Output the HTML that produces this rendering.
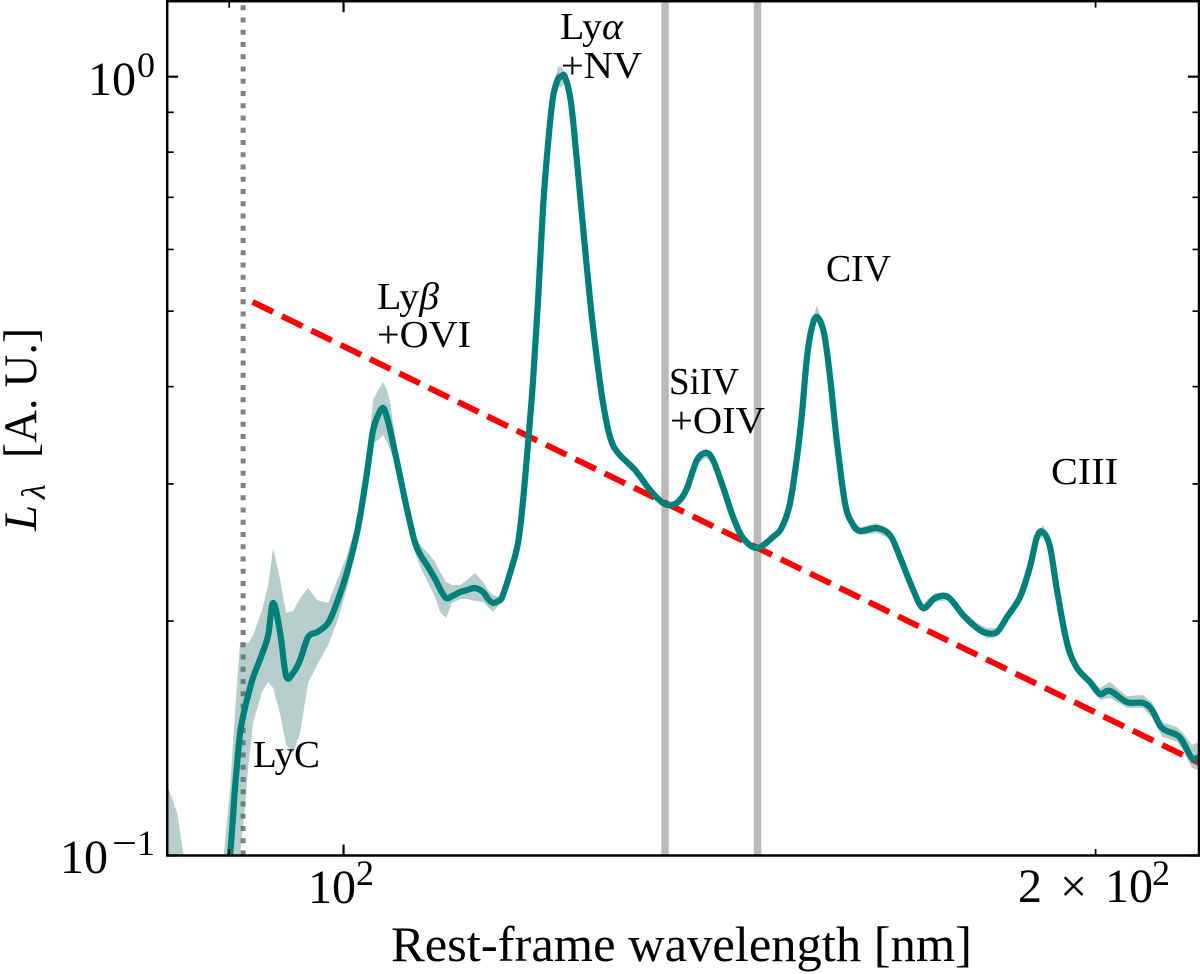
<!DOCTYPE html>
<html lang="en">
<head>
<meta charset="utf-8">
<title>Composite spectrum</title>
<style>
html,body{margin:0;padding:0;background:#fff;}
#chart{display:block;width:1200px;height:974px;}
text{font-family:"Liberation Serif","DejaVu Serif",serif;fill:#000;}
</style>
</head>
<body>
<svg id="chart" xmlns="http://www.w3.org/2000/svg" width="1200" height="974" viewBox="0 0 1200 974">
  <defs><clipPath id="plot-clip"><rect x="167.2" y="1.2" width="1031.8" height="854.3"/></clipPath></defs>
  <g id="plot" clip-path="url(#plot-clip)"></g>
  <g id="frame"></g>

  <g>
    <g><text x="88" y="95" font-size="48">10</text><text x="137" y="77" font-size="36">0</text></g>
    <g><text x="60" y="873" font-size="48">10</text><text x="112" y="855" font-size="36" textLength="25" lengthAdjust="spacingAndGlyphs">−</text><text x="137" y="855" font-size="36">1</text></g>
  </g>
  <g>
    <g><text x="308" y="903" font-size="48">10</text><text x="356" y="885" font-size="36">2</text></g>
    <g><text x="1018" y="902" font-size="48">2</text><text x="1060" y="902" font-size="48">×</text><text x="1105" y="902" font-size="48">10</text><text x="1152" y="885" font-size="36">2</text></g>
  </g>

  <text x="391" y="961" font-size="50" textLength="581" lengthAdjust="spacingAndGlyphs">Rest-frame wavelength [nm]</text>
  <g>
    <text transform="rotate(-90 36 531)" x="36" y="531" font-size="47" font-style="italic">L</text>
    <text transform="rotate(-90 45 499)" x="45" y="499" font-size="34" font-style="italic">λ</text>
    <text transform="rotate(-90 36 458)" x="36" y="458" font-size="47" textLength="130" lengthAdjust="spacingAndGlyphs">[A. U.]</text>
  </g>

  <g>
    <text x="560" y="39" font-size="38" textLength="63" lengthAdjust="spacingAndGlyphs">Ly<tspan font-style="italic">α</tspan></text>
    <text x="561" y="78" font-size="38" textLength="81" lengthAdjust="spacingAndGlyphs">+NV</text>
    <text x="377" y="309" font-size="38" textLength="62" lengthAdjust="spacingAndGlyphs">Ly<tspan font-style="italic">β</tspan></text>
    <text x="377" y="347" font-size="38" textLength="94" lengthAdjust="spacingAndGlyphs">+OVI</text>
    <text x="669" y="394" font-size="38" textLength="70" lengthAdjust="spacingAndGlyphs">SiIV</text>
    <text x="670" y="433" font-size="38" textLength="95" lengthAdjust="spacingAndGlyphs">+OIV</text>
    <text x="826" y="281" font-size="38" textLength="65" lengthAdjust="spacingAndGlyphs">CIV</text>
    <text x="1051" y="484" font-size="38" textLength="67" lengthAdjust="spacingAndGlyphs">CIII</text>
    <text x="253" y="767" font-size="38" textLength="67" lengthAdjust="spacingAndGlyphs">LyC</text>
  </g>
</svg>
<script>
// ---- data ----
const wavelengthNm = [85.0,85.79,86.26,87.62,89.5,90.08,90.49,90.91,91.33,91.59,92.01,92.77,93.29,93.72,94.33,94.85,95.46,96.08,96.79,97.6,98.59,99.41,100.33,101.26,102.01,102.48,102.76,103.24,103.72,104.1,104.39,104.77,105.16,106.04,106.82,107.41,108.11,108.81,109.31,109.91,110.52,111.34,112.06,112.89,113.73,114.25,114.78,115.31,115.74,116.59,117.45,118.0,118.54,119.09,119.64,120.19,120.75,121.3,121.86,122.2,122.65,123.33,124.02,124.7,125.51,126.32,127.02,127.84,128.79,130.82,132.64,134.24,135.36,136.36,137.25,138.51,139.67,140.57,141.87,143.19,144.51,146.39,148.56,149.8,150.91,151.89,152.59,153.29,154.0,154.71,155.71,156.58,157.59,158.75,159.78,160.96,163.5,165.47,167.0,168.86,170.58,172.49,174.57,177.0,179.29,180.96,182.63,184.32,186.54,188.26,189.48,190.53,191.77,193.01,194.8,196.6,198.95,200.8,202.66,205.86,208.92,210.66,212.61,215.57,216.77,218.57,220.0];
const luminosity = [0.0930,0.0903,0.0877,0.0802,0.0864,0.1008,0.1224,0.1437,0.1551,0.1607,0.1695,0.1815,0.1919,0.2110,0.1930,0.1700,0.1716,0.1783,0.1908,0.1936,0.1989,0.2116,0.2312,0.2602,0.2990,0.3316,0.3518,0.3678,0.3755,0.3645,0.3518,0.3336,0.3154,0.2777,0.2519,0.2424,0.2347,0.2265,0.2199,0.2141,0.2153,0.2179,0.2192,0.2205,0.2179,0.2135,0.2110,0.2122,0.2147,0.2305,0.2519,0.2861,0.3386,0.4079,0.5167,0.6803,0.8220,0.9418,0.9932,1.0000,0.9991,0.9252,0.7748,0.6412,0.5167,0.4328,0.3811,0.3446,0.3287,0.3126,0.2946,0.2835,0.2819,0.2861,0.2964,0.3220,0.3287,0.3220,0.2973,0.2721,0.2557,0.2482,0.2564,0.2641,0.2835,0.3249,0.3699,0.4366,0.4771,0.4914,0.4687,0.4115,0.3386,0.2835,0.2673,0.2610,0.2633,0.2579,0.2417,0.2212,0.2079,0.2141,0.2147,0.2036,0.1959,0.1930,0.1936,0.2024,0.2147,0.2347,0.2564,0.2602,0.2490,0.2192,0.1874,0.1741,0.1671,0.1612,0.1627,0.1574,0.1570,0.1538,0.1458,0.1428,0.1399,0.1334,0.1338];
const bandUpper = [0.1232,0.1134,0.1008,0.0877,0.0987,0.1224,0.1538,0.1880,0.1874,0.1874,0.1919,0.2066,0.2225,0.2482,0.2258,0.2048,0.2060,0.2141,0.2205,0.2128,0.2110,0.2258,0.2432,0.2681,0.3080,0.3518,0.3845,0.3960,0.4055,0.3960,0.3811,0.3518,0.3249,0.2835,0.2579,0.2497,0.2446,0.2382,0.2312,0.2245,0.2225,0.2225,0.2258,0.2305,0.2245,0.2192,0.2160,0.2147,0.2173,0.2319,0.2534,0.2878,0.3406,0.4103,0.5198,0.6843,0.8269,0.9586,1.0321,1.0291,1.0140,0.9307,0.7794,0.6450,0.5198,0.4353,0.3833,0.3467,0.3316,0.3163,0.2964,0.2852,0.2835,0.2878,0.2982,0.3258,0.3336,0.3258,0.2990,0.2737,0.2572,0.2497,0.2579,0.2657,0.2852,0.3268,0.3722,0.4392,0.4842,0.5092,0.4729,0.4140,0.3406,0.2852,0.2696,0.2641,0.2673,0.2610,0.2432,0.2232,0.2103,0.2173,0.2173,0.2060,0.1989,0.1959,0.1959,0.2042,0.2160,0.2361,0.2595,0.2657,0.2519,0.2205,0.1886,0.1762,0.1690,0.1641,0.1671,0.1602,0.1607,0.1574,0.1484,0.1462,0.1437,0.1387,0.1399];
const bandLower = [0.0734,0.0734,0.0734,0.0692,0.0692,0.0827,0.0917,0.1002,0.1161,0.1299,0.1484,0.1622,0.1671,0.1641,0.1515,0.1387,0.1354,0.1437,0.1666,0.1757,0.1863,0.1995,0.2205,0.2504,0.2903,0.3201,0.3386,0.3416,0.3467,0.3396,0.3316,0.3220,0.3062,0.2721,0.2446,0.2333,0.2238,0.2147,0.2054,0.2018,0.2110,0.2135,0.2135,0.2122,0.2116,0.2085,0.2054,0.2091,0.2116,0.2285,0.2504,0.2844,0.3366,0.4055,0.5137,0.6763,0.8172,0.9307,0.9671,0.9700,0.9815,0.9197,0.7702,0.6374,0.5137,0.4302,0.3788,0.3426,0.3258,0.3099,0.2929,0.2819,0.2802,0.2844,0.2946,0.3182,0.3239,0.3182,0.2955,0.2704,0.2542,0.2467,0.2549,0.2626,0.2819,0.3229,0.3678,0.4340,0.4715,0.4857,0.4646,0.4091,0.3366,0.2819,0.2641,0.2579,0.2595,0.2549,0.2403,0.2192,0.2048,0.2116,0.2128,0.2018,0.1936,0.1897,0.1919,0.2006,0.2135,0.2333,0.2534,0.2564,0.2467,0.2179,0.1863,0.1720,0.1646,0.1584,0.1593,0.1547,0.1547,0.1506,0.1420,0.1399,0.1366,0.1295,0.1287];
const powerLawWavelength = [91.96, 220];
const powerLawLuminosity = [0.5138, 0.1315];
const featureWavelengths = [134.49, 146.46];
const lymanLimit = [91.16];
const xMajorTicks = [100];
const xMinorTicks = [90, 200];
const yMajorTicks = [0.1, 1];
const yMinorTicks = [0.2, 0.3, 0.4, 0.5, 0.6, 0.7, 0.8, 0.9];

// ---- axes ----
const NS = 'http://www.w3.org/2000/svg';
const X0 = 167.2, X1 = 1199, Y0 = 855.5, Y1 = 1.2;
const XMIN = 85, XMAX = 220, YMIN = 0.1, YMAX = 1.25;
function xPos(v) { return X0 + (Math.log10(v) - Math.log10(XMIN)) / (Math.log10(XMAX) - Math.log10(XMIN)) * (X1 - X0); }
function yPos(v) { return Y0 - (Math.log10(v) - Math.log10(YMIN)) / (Math.log10(YMAX) - Math.log10(YMIN)) * (Y0 - Y1); }
function make(tag, attrs) {
  const el = document.createElementNS(NS, tag);
  for (const k in attrs) el.setAttribute(k, attrs[k]);
  return el;
}
// smooth curve through the plotted samples (Catmull-Rom as cubic Beziers)
function smoothPath(xs, ys) {
  let d = 'M' + xs[0].toFixed(2) + ' ' + ys[0].toFixed(2);
  const n = xs.length;
  for (let i = 0; i < n - 1; i++) {
    const a = Math.max(i - 1, 0), b = i + 1, c = Math.min(i + 2, n - 1);
    const c1x = xs[i] + (xs[b] - xs[a]) / 6, c1y = ys[i] + (ys[b] - ys[a]) / 6;
    const c2x = xs[b] - (xs[c] - xs[i]) / 6, c2y = ys[b] - (ys[c] - ys[i]) / 6;
    d += 'C' + c1x.toFixed(2) + ' ' + c1y.toFixed(2) + ' ' + c2x.toFixed(2) + ' ' + c2y.toFixed(2) + ' ' + xs[b].toFixed(2) + ' ' + ys[b].toFixed(2);
  }
  return d;
}
const plot = document.getElementById('plot');
const frame = document.getElementById('frame');

// feature windows
featureWavelengths.forEach(function (w) {
  const el = make('line', { x1: xPos(w), x2: xPos(w), y1: Y1, y2: Y0, stroke: '#bababa', 'stroke-width': 7.5 });
  
  
  plot.appendChild(el);
});

// Lyman limit
lymanLimit.forEach(function (w) {
  const el = make('line', { x1: xPos(w), x2: xPos(w), y1: 5.2, y2: Y0, stroke: '#808080', 'stroke-width': 5, 'stroke-dasharray': '5 7.25' });
  
  
  plot.appendChild(el);
});

// power law
const pl = make('polyline', {
  points: powerLawWavelength.map(function (w, i) { return xPos(w) + ',' + yPos(powerLawLuminosity[i]); }).join(' '),
  fill: 'none', stroke: '#ff0000', 'stroke-width': 6, 'stroke-dasharray': '22.8 9.84'
});


plot.appendChild(pl);

// uncertainty band
let bandPts = wavelengthNm.map(function (w, i) { return xPos(w) + ',' + yPos(bandUpper[i]); });
for (let i = wavelengthNm.length - 1; i >= 0; i--) bandPts.push(xPos(wavelengthNm[i]) + ',' + yPos(bandLower[i]));
const band = make('polygon', { points: bandPts.join(' '), fill: 'rgb(60,125,120)', 'fill-opacity': 0.38 });


plot.appendChild(band);

// spectrum
const spec = make('path', {
  d: smoothPath(wavelengthNm.map(xPos), luminosity.map(yPos)),
  fill: 'none', stroke: '#00807a', 'stroke-width': 6.2, 'stroke-linejoin': 'round', 'stroke-linecap': 'round'
});


plot.appendChild(spec);

// frame
const spine = make('rect', { x: X0, y: Y1, width: X1 - X0, height: Y0 - Y1, fill: 'none', stroke: '#000', 'stroke-width': 2.5 });


frame.appendChild(spine);

// ticks
function xTick(v, len, w) {
  const x = xPos(v);
  [[Y0, Y0 - len], [Y1, Y1 + len]].forEach(function (p) {
    const t = make('line', { x1: x, x2: x, y1: p[0], y2: p[1], stroke: '#000', 'stroke-width': w });
    
    
    frame.appendChild(t);
  });
}
function yTick(v, len, w) {
  const y = yPos(v);
  [[X0, X0 + len], [X1, X1 - len]].forEach(function (p) {
    const t = make('line', { x1: p[0], x2: p[1], y1: y, y2: y, stroke: '#000', 'stroke-width': w });
    
    
    frame.appendChild(t);
  });
}
xMajorTicks.forEach(function (v) { xTick(v, 11, 2.2); });
xMinorTicks.forEach(function (v) { xTick(v, 6.5, 1.7); });
yMajorTicks.forEach(function (v) { yTick(v, 11, 2.2); });
yMinorTicks.forEach(function (v) { yTick(v, 6.5, 1.7); });
</script>
</body>
</html>
